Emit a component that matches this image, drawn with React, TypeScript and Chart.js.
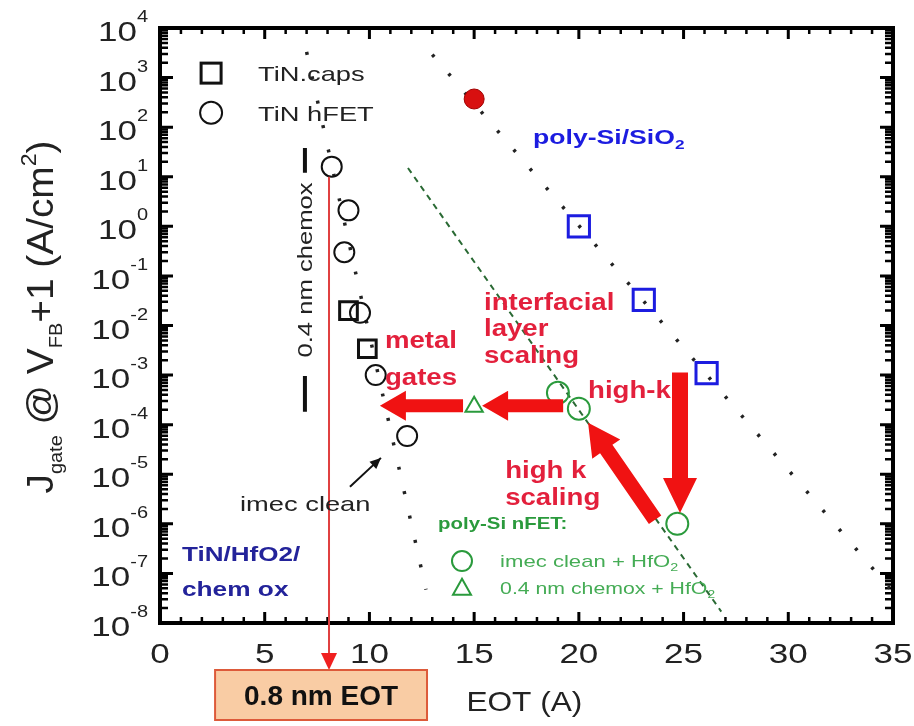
import React, { useEffect, useRef } from "react";
import { Chart, registerables } from "chart.js";
Chart.register(...registerables);

// ---- data (EOT in Å, Jgate in A/cm^2) ----
const tinHfetX = [8.2, 9.0, 8.8, 9.55, 10.3, 11.8];
const tinHfetY = [16, 2.1, 0.3, 0.018, 1.0e-3, 5.9e-5];
const tinCapsX = [9.0, 9.9];
const tinCapsY = [0.02, 3.4e-3];
const redRefX = [15.0];
const redRefY = [370];
const polySiO2X = [20.0, 23.1, 26.1];
const polySiO2Y = [1.0, 0.033, 1.1e-3];
const nfetCleanX = [19.0, 20.0, 24.7];
const nfetCleanY = [4.4e-4, 2.1e-4, 1.0e-6];
const nfetChemoxX = [15.0];
const nfetChemoxY = [2.3e-4];
const sio2TrendX = [13.0, 35.0];
const sio2TrendY = [2.9e3, 4.2e-8];
const metalTrendX = [7.0, 12.7];
const metalTrendY = [3.3e3, 4.7e-8];
const nfetTrendX = [11.84, 26.8];
const nfetTrendY = [15, 1.7e-8];
const xTicks = [0, 5, 10, 15, 20, 25, 30, 35];
const yExponents = [-8, -7, -6, -5, -4, -3, -2, -1, 0, 1, 2, 3, 4];
const eotTargetX = 8.07;

const pts = (xs: number[], ys: number[]) => xs.map((x, i) => ({ x, y: ys[i] }));

const FONT = "'Liberation Sans', Arial, sans-serif";
const RED = "#f01212";
const TXT_RED = "#e3203c";
const BLUE = "#1c1ce0";
const GREEN = "#2a9a3c";

type Part = { t: string; s: number; dy?: number; b?: boolean };

function blockArrow(ctx: CanvasRenderingContext2D, x1: number, y1: number, x2: number, y2: number, shaft: number, headW: number, headL: number, color: string) {
  const dx = x2 - x1, dy = y2 - y1;
  const len = Math.hypot(dx, dy);
  const ux = dx / len, uy = dy / len;
  const nx = -uy, ny = ux;
  const bx = x2 - ux * headL, by = y2 - uy * headL;
  ctx.save();
  ctx.fillStyle = color;
  ctx.beginPath();
  ctx.moveTo(x1 + nx * shaft / 2, y1 + ny * shaft / 2);
  ctx.lineTo(bx + nx * shaft / 2, by + ny * shaft / 2);
  ctx.lineTo(bx + nx * headW / 2, by + ny * headW / 2);
  ctx.lineTo(x2, y2);
  ctx.lineTo(bx - nx * headW / 2, by - ny * headW / 2);
  ctx.lineTo(bx - nx * shaft / 2, by - ny * shaft / 2);
  ctx.lineTo(x1 - nx * shaft / 2, y1 - ny * shaft / 2);
  ctx.closePath();
  ctx.fill();
  ctx.restore();
}

// draws text parts horizontally stretched by sx; x is left/center/right depending on align; y is baseline
function richText(ctx: CanvasRenderingContext2D, x: number, y: number, parts: Part[], color: string, align: "left" | "center" | "right" = "left", sx = 1) {
  let total = 0;
  const widths = parts.map((p) => {
    ctx.font = `${p.b ? "bold " : ""}${p.s}px ${FONT}`;
    const w = ctx.measureText(p.t).width;
    total += w;
    return w;
  });
  ctx.save();
  ctx.translate(x, y);
  ctx.scale(sx, 1);
  let cx = align === "center" ? -total / 2 : align === "right" ? -total : 0;
  ctx.fillStyle = color;
  ctx.textAlign = "left";
  ctx.textBaseline = "alphabetic";
  parts.forEach((p, i) => {
    ctx.font = `${p.b ? "bold " : ""}${p.s}px ${FONT}`;
    ctx.fillText(p.t, cx, p.dy || 0);
    cx += widths[i];
  });
  ctx.restore();
}

const overlay = {
  id: "overlay",
  beforeDatasetsDraw(chart: any) {
    const ctx: CanvasRenderingContext2D = chart.ctx;
    const { left, right, top, bottom } = chart.chartArea;
    const xs = chart.scales.x, ys = chart.scales.y;
    ctx.save();
    ctx.strokeStyle = "#000";
    for (let v = 0; v <= 35; v += 1) {
      const px = xs.getPixelForValue(v);
      const major = v % 5 === 0;
      const L = major ? 11 : 6;
      ctx.lineWidth = major ? 3 : 2.5;
      ctx.beginPath();
      ctx.moveTo(px, bottom); ctx.lineTo(px, bottom - L);
      ctx.moveTo(px, top); ctx.lineTo(px, top + L);
      ctx.stroke();
    }
    for (let e = -8; e <= 4; e++) {
      for (let m = 1; m <= 9; m++) {
        const v = m * Math.pow(10, e);
        if (v > 1e4 * 1.0001) break;
        const py = ys.getPixelForValue(v);
        const L = m === 1 ? 13 : 8;
        ctx.lineWidth = m === 1 ? 3 : 2.5;
        ctx.beginPath();
        ctx.moveTo(left, py); ctx.lineTo(left + L, py);
        ctx.moveTo(right, py); ctx.lineTo(right - L, py);
        ctx.stroke();
      }
    }
    ctx.lineWidth = 4;
    ctx.strokeRect(left, top, right - left, bottom - top);
    ctx.restore();
  },
  afterDatasetsDraw(chart: any) {
    const ctx: CanvasRenderingContext2D = chart.ctx;
    const { left, bottom } = chart.chartArea;
    const xs = chart.scales.x, ys = chart.scales.y;
    const X = (v: number) => xs.getPixelForValue(v);
    const Y = (e: number) => ys.getPixelForValue(Math.pow(10, e));
    ctx.save();

    // tick labels
    xTicks.forEach((v) => richText(ctx, X(v), bottom + 40, [{ t: String(v), s: 28 }], "#222", "center", 1.25));
    yExponents.forEach((e) => {
      const py = ys.getPixelForValue(Math.pow(10, e));
      richText(ctx, left - 12, py + 13, [{ t: "10", s: 28 }, { t: String(e), s: 16, dy: -19 }], "#222", "right", 1.25);
    });

    // axis titles
    richText(ctx, X(17.4), bottom + 88, [{ t: "EOT (A)", s: 28 }], "#222", "center", 1.13);
    ctx.save();
    ctx.translate(53, 317);
    ctx.rotate(-Math.PI / 2);
    richText(ctx, 0, 0, [
      { t: "J", s: 37 }, { t: "gate", s: 19, dy: 9 }, { t: " @ V", s: 37 }, { t: "FB", s: 19, dy: 9 },
      { t: "+1 (A/cm", s: 37 }, { t: "2", s: 22, dy: -17 }, { t: ")", s: 37 },
    ], "#222", "center", 1.05);
    ctx.restore();

    // red target line to 0.8 nm EOT box
    const lx = X(eotTargetX);
    const boxTop = bottom + 47;
    ctx.strokeStyle = "#e04040";
    ctx.lineWidth = 2;
    ctx.beginPath();
    ctx.moveTo(lx, Y(Math.log10(16)) + 10);
    ctx.lineTo(lx, boxTop - 12);
    ctx.stroke();
    ctx.fillStyle = "#f02020";
    ctx.beginPath();
    ctx.moveTo(lx - 8, boxTop - 17);
    ctx.lineTo(lx + 8, boxTop - 17);
    ctx.lineTo(lx, boxTop);
    ctx.closePath();
    ctx.fill();
    const bx0 = X(2.63), bx1 = X(12.75);
    ctx.fillStyle = "#f9cca4";
    ctx.fillRect(bx0, boxTop, bx1 - bx0, 50);
    ctx.strokeStyle = "#dd5a3a";
    ctx.lineWidth = 2;
    ctx.strokeRect(bx0, boxTop, bx1 - bx0, 50);
    richText(ctx, (bx0 + bx1) / 2, boxTop + 35, [{ t: "0.8 nm EOT", s: 28, b: true }], "#111", "center", 1.0);

    // big red arrows
    blockArrow(ctx, X(14.47), Y(-3.62), X(10.5), Y(-3.62), 13, 30, 26, RED);
    blockArrow(ctx, X(19.25), Y(-3.62), X(15.38), Y(-3.62), 13, 30, 26, RED);
    blockArrow(ctx, X(23.64), Y(-5.92), X(20.44), Y(-3.96), 15, 34, 32, RED);
    blockArrow(ctx, X(24.83), Y(-2.95), X(24.83), Y(-5.78), 16, 34, 35, RED);

    // imec clean arrow
    ctx.strokeStyle = "#111";
    ctx.fillStyle = "#111";
    ctx.lineWidth = 2;
    const ax0 = X(9.07), ay0 = Y(-5.25), ax1 = X(10.55), ay1 = Y(-4.67);
    ctx.beginPath(); ctx.moveTo(ax0, ay0); ctx.lineTo(ax1, ay1); ctx.stroke();
    {
      const a = Math.atan2(ay1 - ay0, ax1 - ax0);
      ctx.beginPath();
      ctx.moveTo(ax1, ay1);
      ctx.lineTo(ax1 - 11 * Math.cos(a) + 5 * Math.sin(a), ay1 - 11 * Math.sin(a) - 5 * Math.cos(a));
      ctx.lineTo(ax1 - 11 * Math.cos(a) - 5 * Math.sin(a), ay1 - 11 * Math.sin(a) + 5 * Math.cos(a));
      ctx.closePath(); ctx.fill();
    }

    // rotated 0.4 nm chemox label with bars
    const cx = X(6.92);
    ctx.strokeStyle = "#111";
    ctx.lineWidth = 4;
    ctx.beginPath();
    ctx.moveTo(cx, Y(1.58)); ctx.lineTo(cx, Y(1.08));
    ctx.moveTo(cx, Y(-3.02)); ctx.lineTo(cx, Y(-3.74));
    ctx.stroke();
    ctx.save();
    ctx.translate(cx + 7, Y(-0.88));
    ctx.rotate(-Math.PI / 2);
    richText(ctx, 0, 0, [{ t: "0.4 nm chemox", s: 21 }], "#222", "center", 1.22);
    ctx.restore();

    // legend (TiN)
    ctx.strokeStyle = "#111";
    ctx.lineWidth = 3;
    ctx.strokeRect(X(2.44) - 10, Y(3.09) - 10, 20, 20);
    ctx.lineWidth = 2;
    ctx.beginPath(); ctx.arc(X(2.44), Y(2.29), 11, 0, Math.PI * 2); ctx.stroke();
    richText(ctx, X(4.68), Y(3.09) + 8, [{ t: "TiN.caps", s: 21 }], "#222", "left", 1.3);
    richText(ctx, X(4.68), Y(2.29) + 8, [{ t: "TiN hFET", s: 21 }], "#222", "left", 1.3);

    // texts
    richText(ctx, X(17.81), Y(1.80) + 7, [{ t: "poly-Si/SiO", s: 20, b: true }, { t: "2", s: 13, b: true, dy: 5 }], BLUE, "left", 1.33);
    const redTxt = (t: string, x: number, e: number) =>
      richText(ctx, X(x), Y(e) + 8, [{ t, s: 23, b: true }], TXT_RED, "left", 1.2);
    redTxt("interfacial", 15.47, -1.52);
    redTxt("layer", 15.47, -2.05);
    redTxt("scaling", 15.47, -2.59);
    redTxt("metal", 10.74, -2.29);
    redTxt("gates", 10.74, -3.04);
    redTxt("high-k", 20.44, -3.30);
    redTxt("high k", 16.48, -4.91);
    redTxt("scaling", 16.48, -5.46);

    richText(ctx, X(13.28), Y(-5.98) + 6, [{ t: "poly-Si nFET:", s: 17, b: true }], GREEN, "left", 1.2);
    ctx.strokeStyle = GREEN;
    ctx.lineWidth = 2;
    ctx.beginPath(); ctx.arc(X(14.42), Y(-6.75), 10, 0, Math.PI * 2); ctx.stroke();
    {
      const tx = X(14.42), ty = Y(-7.29);
      ctx.beginPath();
      ctx.moveTo(tx, ty - 9); ctx.lineTo(tx + 9, ty + 7); ctx.lineTo(tx - 9, ty + 7); ctx.closePath(); ctx.stroke();
    }
    richText(ctx, X(16.24), Y(-6.75) + 6, [{ t: "imec clean + HfO", s: 17 }, { t: "2", s: 11, dy: 4 }], "#45ac55", "left", 1.3);
    richText(ctx, X(16.24), Y(-7.29) + 6, [{ t: "0.4 nm chemox + HfO", s: 17 }, { t: "2", s: 11, dy: 4 }], "#45ac55", "left", 1.25);

    richText(ctx, X(1.05), Y(-6.58) + 8, [{ t: "TiN/HfO2/", s: 21, b: true }], "#23239a", "left", 1.24);
    richText(ctx, X(1.05), Y(-7.29) + 8, [{ t: "chem ox", s: 21, b: true }], "#23239a", "left", 1.25);
    richText(ctx, X(3.82), Y(-5.58) + 8, [{ t: "imec clean", s: 21 }], "#222", "left", 1.3);

    ctx.restore();
  },
};

export default function App() {
  const ref = useRef<HTMLCanvasElement | null>(null);
  useEffect(() => {
    document.body.style.margin = "0";
    const canvas = ref.current!;
    const chart = new Chart(canvas, {
      type: "scatter",
      data: {
        datasets: [
          { label: "TiN hFET", data: pts(tinHfetX, tinHfetY), pointStyle: "circle", pointRadius: 10, borderColor: "#111", backgroundColor: "rgba(255,255,255,0)", borderWidth: 2, order: 1 },
          { label: "TiN caps", data: pts(tinCapsX, tinCapsY), pointStyle: "rect", pointRadius: 12.5, borderColor: "#111", backgroundColor: "rgba(255,255,255,0)", borderWidth: 3, order: 1 },
          { label: "ref", data: pts(redRefX, redRefY), pointStyle: "circle", pointRadius: 10, borderColor: "#a00000", backgroundColor: "#d81010", borderWidth: 1, order: 1 },
          { label: "poly-Si/SiO2", data: pts(polySiO2X, polySiO2Y), pointStyle: "rect", pointRadius: 15, borderColor: BLUE, backgroundColor: "rgba(255,255,255,0)", borderWidth: 3, order: 1 },
          { label: "imec clean + HfO2", data: pts(nfetCleanX, nfetCleanY), pointStyle: "circle", pointRadius: 11, borderColor: GREEN, backgroundColor: "rgba(255,255,255,0)", borderWidth: 2, order: 1 },
          { label: "0.4 nm chemox + HfO2", data: pts(nfetChemoxX, nfetChemoxY), pointStyle: "triangle", pointRadius: 10, borderColor: GREEN, backgroundColor: "rgba(255,255,255,0)", borderWidth: 2, order: 1 },
          { label: "SiO2 trend", data: pts(sio2TrendX, sio2TrendY), showLine: true, pointRadius: 0, borderColor: "#222", borderWidth: 3.5, borderDash: [3, 22], order: 2 },
          { label: "metal trend", data: pts(metalTrendX, metalTrendY), showLine: true, pointRadius: 0, borderColor: "#222", borderWidth: 3.5, borderDash: [3, 22], order: 2 },
          { label: "nFET trend", data: pts(nfetTrendX, nfetTrendY), showLine: true, pointRadius: 0, borderColor: "#2a6a34", borderWidth: 2, borderDash: [6, 5], order: 2 },
        ],
      },
      options: {
        responsive: false,
        animation: false,
        layout: { padding: { left: 160, right: 21, top: 28, bottom: 103 } },
        plugins: { legend: { display: false }, tooltip: { enabled: false } },
        scales: {
          x: { type: "linear", min: 0, max: 35, display: false },
          y: { type: "logarithmic", min: 1e-8, max: 1e4, display: false },
        },
      },
      plugins: [overlay],
    });
    return () => chart.destroy();
  }, []);
  return (
    <div style={{ width: 914, height: 726, background: "#fff" }}>
      <canvas ref={ref} width={914} height={726} />
    </div>
  );
}
